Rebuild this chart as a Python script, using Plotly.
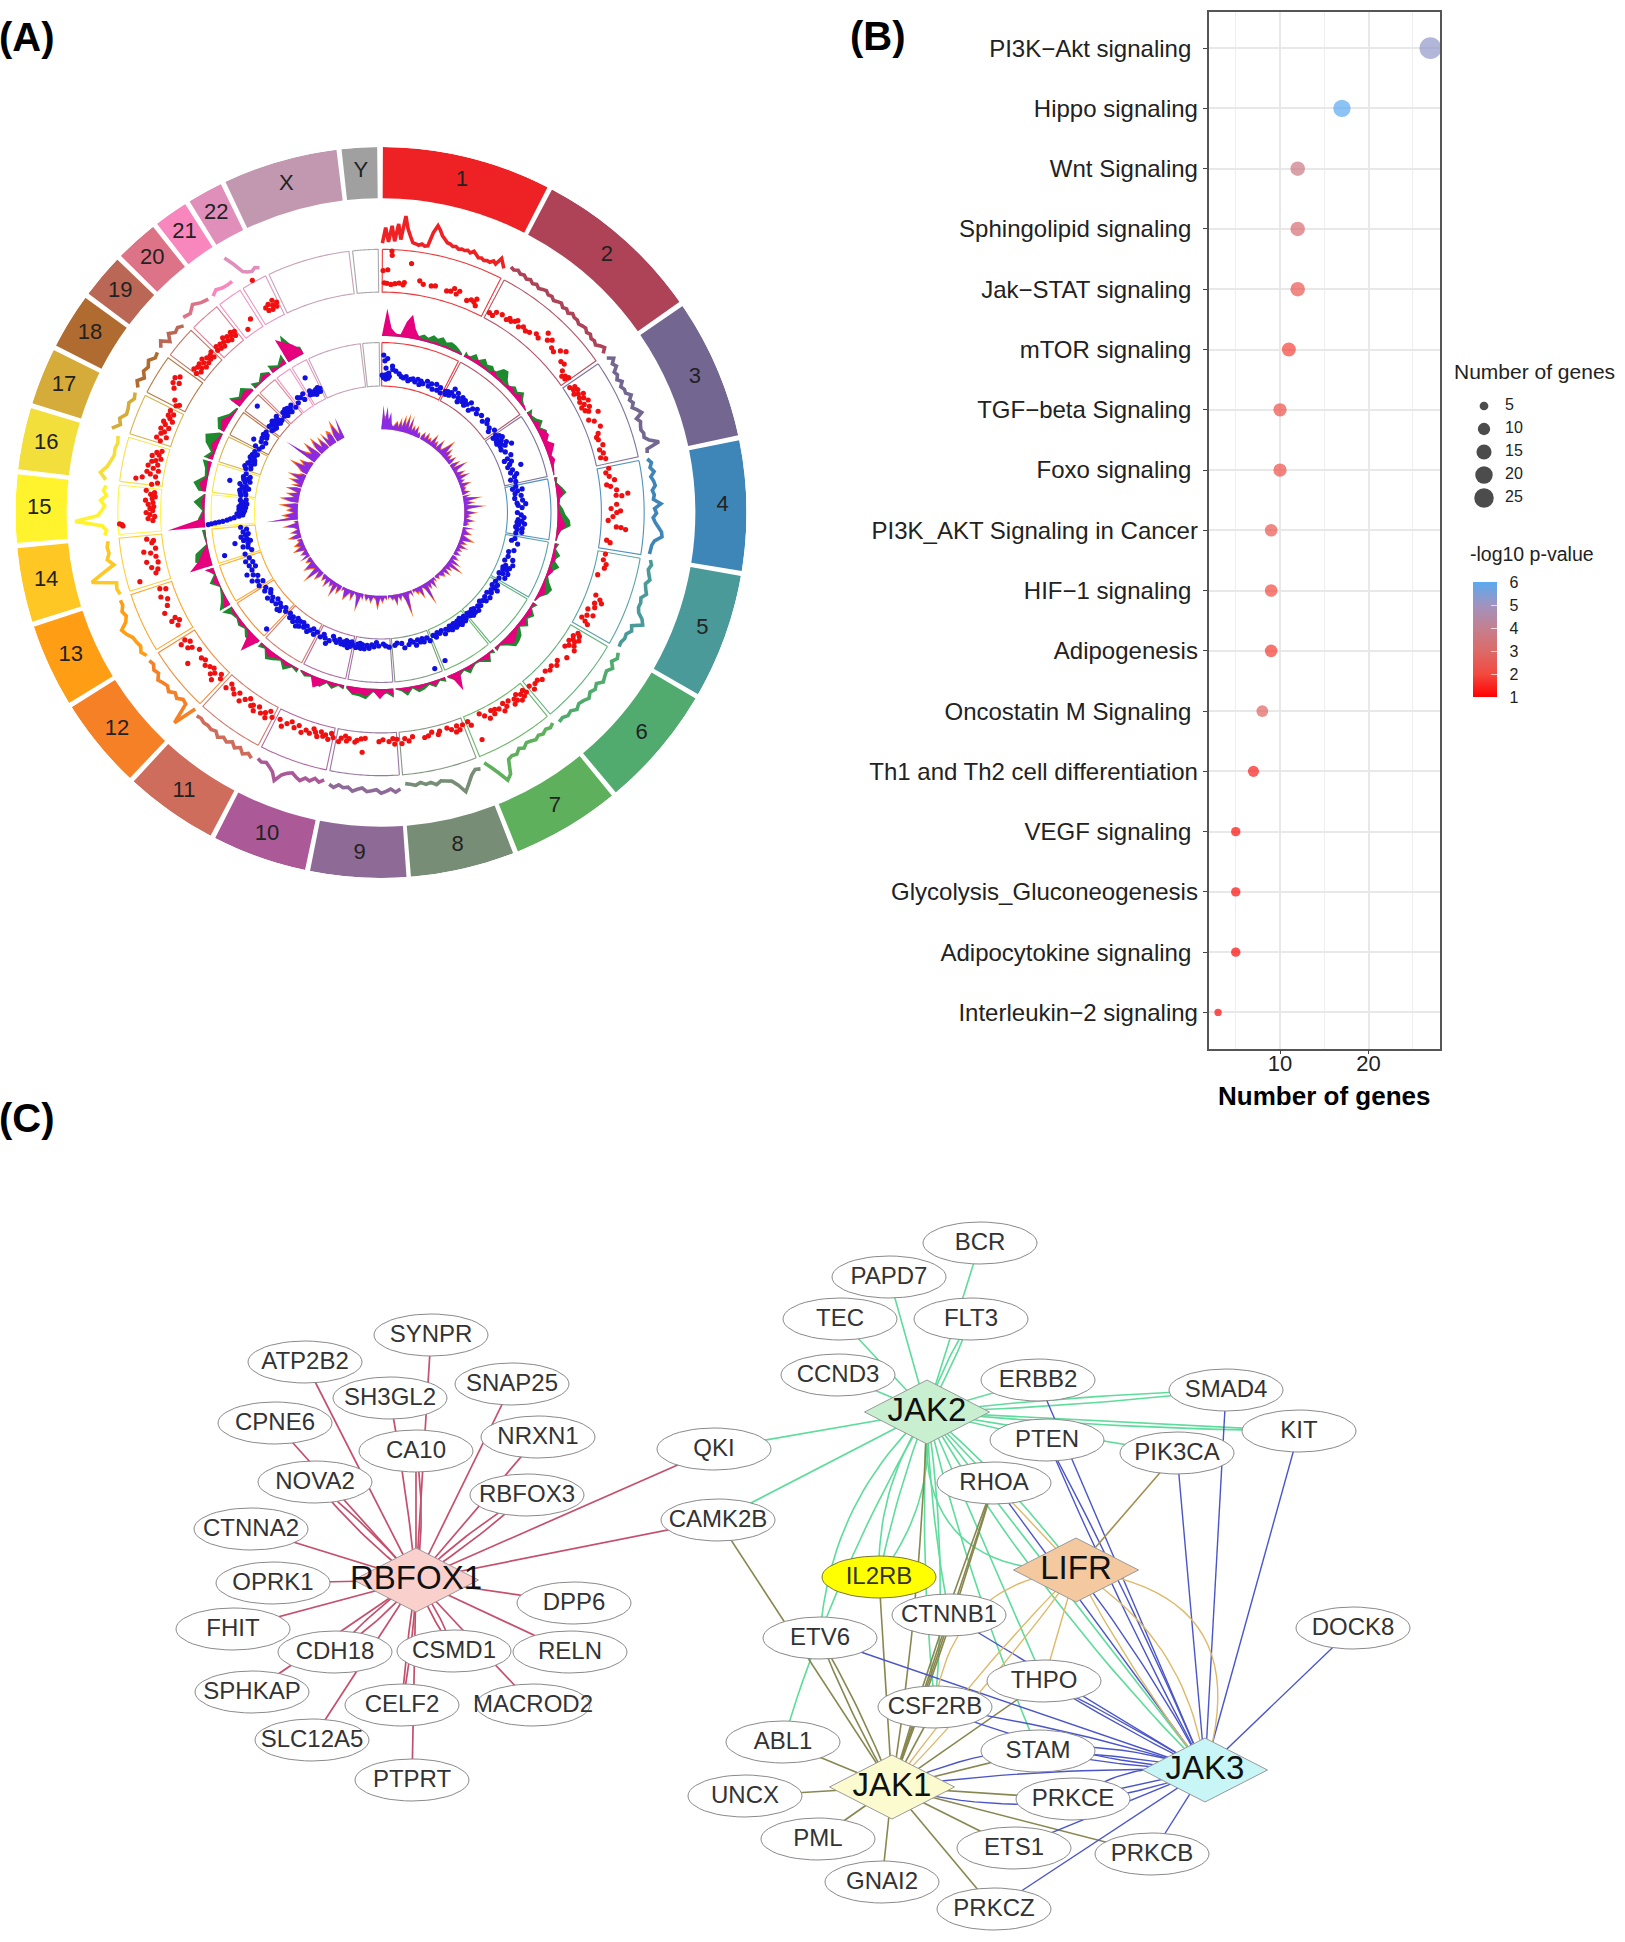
import numpy as np
import plotly.graph_objects as go

W, H = 1625, 1942

# ---------- Panel A: chromosome ring ----------
CHROMS = ["1","2","3","4","5","6","7","8","9","10","11","12","13","14","15","16","17","18","19","20","21","22","X","Y"]
CHR_START = [0.3,27.9,55.6,78.6,100,120.6,140.8,158.8,176,192,207.8,223.4,238.6,252.6,265.2,276.8,287.4,297.2,306.8,314.6,322.2,328.4,334.8,353.8]
CHR_END = [27.1,54.8,77.8,99.2,119.8,140,158,175.3,191.2,207,222.6,237.8,251.8,264.4,276,286.6,296.4,306,313.8,321.4,327.6,334,353,359.4]
CHR_COLOR = ["#EE2224","#AE4358","#736691","#3E86B8","#4A9A99","#51AA6E","#5FB05C","#778D76","#8E6A97","#AC5A97",
             "#CF6D5D","#F58025","#FF9E14","#FFC724","#FFF32E","#F3DF3B","#D5AB3A","#B06C30","#BA6756","#DC7386",
             "#F887BD","#E08FBB","#C198B0","#A0A0A0"]

LINE_LEVELS = [
 [0,.55,.05,.62,.08,.7,.15,1.0,.55,.3,.08,.05,.02,.08,.02,.05,.55,.82,.68,.5,.4,.3,.28,.22,.25,.18,.22,.2,.24,.18,.28,.2,.12,.15,.1,.14,.12,.22,.15,.42,.28,.14],
 [.3,.25,.32,.24,.28,.2,.26,.18,.24,.16,.22,.26,.18,.22,.14,.2,.25,.16,.22,.14,.24,.18,.2,.13,.18,.22,.14,.2,.12,.16,.1,.22,.3,.14],
 [.15,.35,.2,.28,.1,.15,.05,.18,.05,.12,.1,.25,.12,.2,.1,.24,.35,.1,.2,.15,.12,.18,.15,.3,.62,.15,.12],
 [.08,.2,.12,.24,.1,.18,.22,.1,.16,.12,.38,.15,.22,.1,.18,.3,.42,.45,.2,.12,.1,.08],
 [.15,.22,.14,.2,.28,.16,.22,.3,.15,.2,.18,.25,.45,.55,.2,.28,.15,.18,.12,.14],
 [.22,.3,.18,.35,.22,.28,.36,.2,.3,.22,.34,.25,.2,.3,.18,.24,.16,.2],
 [.08,.16,.1,.18,.12,.2,.14,.1,.22,.14,.28,.24,.3,.8,.95,.6,.3,.05],
 [.2,.15,.3,.55,.8,.5,.3,.25,.2,.3,.18,.22,.12,.2,.14,.1],
 [.28,.38,.26,.34,.4,.28,.32,.36,.24,.3,.38,.26,.3,.22,.34,.26],
 [.14,.26,.16,.3,.24,.38,.3,.2,.28,.4,.68,.42,.3,.2,.26,.2],
 [.3,.2,.32,.16,.28,.14,.26,.18,.3,.16,.22,.18,.2,.14,.18],
 [.04,.9,.15,.1,.24,.15,.3,.2,.26,.34,.18,.25,.14,.2],
 [.18,.3,.2,.26,.3,.45,.55,.3,.2,.28,.18,.2],
 [.14,.2,.15,1.0,.55,.1,.3,.2,.24,.18],
 [.28,.2,.35,1.3,.5,.35,.25,.4,.2,.32,.24],
 [.28,.5,.3,.2,.12,.15,.1,.16],
 [.45,.2,.3,.12,.14,.2,.08,.15],
 [.14,.28,.1,.25,.18,.3,.15,.2],
 [.2,.35,.08,.3,.14,.2,.08],
 [.3,.22,.4,.25,.18],
 [.16,.28,.2,.18,.2],
 [1.05,.7,.3,.2,.15,.22,.14],
]
LINE_R0, LINE_H = 0.737, 0.077

# Track 2, red points: (angle in degrees, level in the box)
RED_POINTS = [
 (0.5,.43),(2.4,.85),(2.5,.76),(1.6,.45),(7,.62),(.8,.17),(1.5,.16),(2.5,.14),(3.5,.16),(4.5,.18),(5.5,.15),(5.8,.2),(9.5,.28),(10.5,.22),(12.5,.22),(13.5,.24),(16.5,.2),(17.5,.22),(18.2,.3),(19,.2),(19.6,.28),(22,.15),(23,.2),(23.8,.18),(24.5,.12),(24.2,.26),
 (28.5,.12),(29.5,.1),(30,.2),(31.5,.22),(33,.18),(33.6,.24),(34.2,.2),(35,.25),(35.5,.3),(36.5,.2),(37.5,.26),(38.5,.22),(39.5,.25),(41,.32),(42,.28),(43,.5),(44,.38),(44.8,.45),(46,.33),(47,.3),(48,.42),(49,.5),(50,.28),(51,.3),(52,.18),(53,.1),(53.5,.16),(54,.12),(54.3,.2),
 (56.5,.1),(57,.2),(57.5,.14),(58,.22),(58.5,.1),(59,.18),(59.5,.28),(60,.16),(60.5,.24),(61,.12),(61.5,.3),(62,.18),(62.5,.1),(63,.26),(63.5,.14),(64,.2),(65,.38),(66,.12),(66.8,.22),(68.5,.3),(70,.2),(70.8,.14),(71.5,.16),(73,.22),(74,.12),(75,.18),(76,.1),(76.5,.2),
 (79,.22),(80,.14),(81,.2),(82,.3),(83,.12),(83.5,.2),(84.5,.32),(85.5,.55),(85.8,.3),(86,.42),(88,.3),(89,.18),(89.6,.38),(90,.3),(91,.22),(92,.12),(93.5,.3),(93.6,.4),(94,.5),(97,.12),(97.5,.2),
 (100.5,.14),(102,.12),(103,.2),(104,.18),(106,.08),(111,.18),(111.8,.3),(112.5,.36),(113,.22),(114,.26),(115,.14),(116,.3),(116.5,.18),(117.5,.1),(118,.2),(118.5,.28),
 (121.5,.2),(122,.26),(122.6,.14),(123,.3),(123.4,.18),(123.8,.24),(124.2,.12),(124.7,.28),(125.2,.18),(125.6,.34),(126,.12),(128,.3),(130,.18),(131,.24),(132,.16),(133,.2),(134,.14),(136,.22),(137,.16),(138,.18),(139,.26),(139.5,.14),
 (141,.2),(141.5,.12),(142,.24),(142.5,.16),(143,.28),(143.5,.1),(144,.22),(144.5,.16),(145,.26),(146,.12),(147,.2),(147.5,.1),(148,.26),(149,.16),(150,.12),(150.5,.2),(151,.1),(152,.24),(153,.14),(154,.05),(156,.57),(157,.2),(157.5,.1),
 (159,.12),(160,.2),(160.5,.1),(161,.22),(162,.14),(163,.08),(165,.1),(165.5,.16),(167,.08),(168,.14),(169,.16),(172,.1),(173,.18),(174,.12),(174.8,.22),
 (176,.12),(176.6,.22),(177,.1),(178,.16),(179.5,.12),(180.5,.16),(184,.1),(184.5,.4),(185,.12),(186,.16),(186.5,.2),(188,.14),(188.6,.2),(189,.1),(190,.16),(190.5,.24),
 (192,.18),(192.6,.1),(193.2,.24),(194,.16),(194.6,.2),(195.2,.12),(196,.24),(196.6,.16),(197.2,.1),(198,.22),(199,.18),(200,.26),(201,.14),(202,.22),(203,.12),(204,.2),(205,.3),(206,.18),
 (208,.22),(209,.12),(209.5,.3),(210,.2),(211,.26),(212,.16),(212.8,.3),(213.5,.2),(214,.24),(215,.12),(216,.2),(217,.3),(218,.16),(219,.25),(220,.18),(221,.12),(221.5,.26),
 (224,.2),(224.6,.12),(225.4,.35),(226,.2),(226.6,.28),(227,.14),(228,.18),(229,.24),(230,.16),(231,.2),(232,.5),(233,.12),(234.5,.22),(235,.3),(236,.18),(236.5,.38),(237,.26),
 (241,.22),(242,.14),(242.5,.3),(243,.2),(245,.36),(246.5,.24),(248,.18),(249,.3),(250.5,.14),(251,.26),
 (254,.62),(255,.24),(255.8,.18),(256.5,.3),(257.5,.14),(258,.38),(259,.16),(260,.26),(260.5,.4),(261,.14),(262.5,.2),(263,.16),(263.5,.3),
 (267.5,.85),(267.3,.8),(267,.78),(268,.14),(268.5,.24),(269,.1),(269.5,.2),(270,.28),(270.5,.14),(271,.2),(271.5,.12),(272,.24),(272.5,.14),(273,.3),(273.5,.16),(274,.1),(274.5,.2),(275,.12),(275.4,.3),
 (277,.2),(277.5,.08),(278,.55),(278.5,.42),(279,.14),(279.5,.26),(280,.34),(280.5,.1),(281,.22),(281.5,.34),(282,.14),(282.6,.28),(283,.2),(283.6,.1),(284,.3),(284.5,.16),(285,.22),(285.6,.12),
 (288,.22),(288.6,.32),(289.2,.12),(289.8,.26),(290.4,.2),(291,.3),(291.6,.14),(292.2,.24),(292.8,.3),(293.4,.12),(294,.2),(294.6,.26),(295.2,.16),(295.8,.26),
 (297.5,.2),(298,.14),(298.6,.28),(301,.42),(302,.5),(302.6,.38),(303.2,.52),(304,.44),
 (307,.2),(307.5,.3),(308,.14),(308.4,.26),(308.9,.18),(309.3,.28),(309.8,.12),(310.2,.22),(310.6,.3),(311,.14),(311.6,.24),(312,.16),(312.6,.22),(313,.14),(313.4,.26),
 (314.8,.18),(315.2,.26),(315.8,.16),(316.3,.24),(316.8,.14),(317.3,.22),(317.8,.3),(318.3,.18),(318.8,.26),(319.2,.14),(319.7,.22),(320.1,.28),(320.6,.16),(321,.24),
 (324,.1),(326,.25),
 (331,.93),(330.6,.28),(331,.2),(331.5,.32),(332,.18),(332.4,.26),(332.8,.36),(333.2,.2),(333.6,.28),
]

# Track 4, blue points: (angle in degrees, level in the box)
BLUE_POINTS = [
 (1,.62),(1.5,.5),(2.5,.55),(2,.35),(0.5,.2),(1,.15),(1.5,.2),(2,.12),(2.5,.22),(3,.14),(3.2,.25),(3.5,.18),(4.5,.4),(4.7,.33),(6,.3),(7.5,.25),(8.5,.2),(9.5,.18),(10.5,.22),(11.5,.14),(12.5,.18),(13.5,.2),(14.5,.15),(15.5,.22),(16.5,.12),(17,.2),(18,.16),(19.5,.24),(20.5,.15),(21.5,.22),(22.5,.12),(23.5,.25),(24.5,.14),(25.5,.22),(26.3,.12),
 (28,.2),(28.5,.14),(29,.22),(30,.16),(30.5,.24),(31,.34),(32,.2),(33,.3),(34,.22),(34.5,.14),(35.5,.28),(36,.2),(37,.26),(37.6,.16),(38.5,.22),(39.5,.3),(40.5,.14),(41.5,.22),(43,.28),(44,.2),(46,.25),(48,.18),(49,.28),(50,.22),(52,.2),(53,.14),(54,.26),
 (56,.22),(56.5,.14),(57,.28),(57.5,.2),(58,.32),(58.5,.16),(59,.26),(59.5,.14),(60,.22),(60.5,.34),(61,.18),(61.5,.28),(62,.42),(62.5,.16),(64,.22),(66,.3),(67,.2),(67.5,.12),(68.5,.26),(69.5,.2),(70.5,.14),(71,.42),(72,.22),(73,.16),(74,.28),(75,.22),(76,.12),(77,.22),
 (79,.2),(80,.12),(80.5,.32),(81,.22),(82,.16),(83,.28),(84,.14),(85,.3),(86,.18),(86.5,.36),(87,.2),(88,.28),(90,.18),(91,.26),(92,.32),(93,.2),(93.6,.28),(94,.18),(94.6,.34),(95,.22),(96,.16),(96.5,.3),(97,.2),(98,.3),(98.6,.18),
 (101,.18),(102,.12),(103,.26),(106,.22),(107,.12),(109,.14),(110,.26),(111,.1),(112,.3),(113,.16),(113.6,.26),(114,.12),(114.6,.22),(115,.14),(116,.28),(116.6,.18),(117,.1),(118,.26),(119,.15),
 (121,.12),(122,.2),(123,.1),(123.6,.18),(124,.26),(125,.14),(126,.18),(127,.1),(128,.22),(129,.12),(130,.2),(131,.14),(132,.1),(133,.18),(134,.14),(135,.22),(136,.12),(136.6,.2),(137,.1),(137.6,.16),(138,.22),(138.6,.12),(139,.18),(139.5,.1),
 (141,.16),(141.6,.1),(142,.2),(142.6,.12),(143,.18),(143.6,.08),(144,.22),(144.6,.14),(145,.1),(145.6,.18),(146,.12),(146.6,.2),(147,.1),(147.6,.16),(148,.12),(148.6,.2),(149,.1),(150,.16),(151,.12),(152,.2),(153,.1),(154,.14),(155,.1),(156,.18),(156.6,.7),(157,.12),
 (159,.2),(160,.12),(161,.78),(161.5,.18),(162,.1),(163,.16),(164,.1),(165,.2),(166,.12),(167,.08),(168,.15),(170,.2),(171,.1),(173,.08),(174,.12),
 (176.5,.15),(178,.12),(179,.08),(181,.12),(182,.05),(183,.14),(184,.1),(185,.18),(186,.12),(187,.2),(188,.12),(188.6,.2),(189,.1),(189.6,.18),(190,.12),(190.6,.2),
 (192,.16),(192.6,.1),(193,.2),(193.6,.12),(194,.24),(194.6,.16),(195,.1),(195.6,.2),(196,.14),(197,.2),(198,.12),(199,.2),(200,.16),(201,.1),(202,.22),(203,.3),(204,.2),(205,.14),(206,.22),
 (208,.16),(209,.24),(210,.14),(211,.2),(212,.26),(213,.16),(214,.22),(215,.14),(215.8,.26),(216.5,.16),(217,.3),(217.6,.2),(218,.14),(219,.26),(220,.18),(221,.24),(222,.16),
 (224,.2),(224.5,.74),(225,.14),(226,.28),(226.6,.2),(227,.3),(228,.16),(229,.24),(230,.14),(231,.26),(232,.2),(233,.3),(234,.18),(235,.14),(236,.26),(237,.2),
 (239,.3),(240,.18),(241,.28),(242,.38),(243,.22),(244,.3),(245,.42),(246,.28),(247,.18),(248,.3),(249,.2),(250,.34),(251,.24),
 (253,.3),(254,.14),(254.6,.72),(255.5,.2),(256,.3),(257,.18),(258,.12),(258.5,.26),(259,.18),(260,.3),(260.5,.2),(261,.14),(262,.24),(263,.16),(264,.28),(258,.45),
 (266,.95),(266.2,.88),(266.4,.8),(266.6,.72),(266.8,.64),(267.2,.55),(267.6,.48),(268,.4),(268.5,.3),(269,.22),(269.5,.34),(270,.2),(270.4,.28),(270.8,.18),(271.2,.3),(271.6,.22),(272,.16),(272.4,.3),(272.8,.2),(273.2,.26),(273.6,.14),(274,.24),(274.4,.18),(275,.28),(275.4,.16),
 (277,.28),(277.5,.18),(278,.3),(278.6,.2),(279,.32),(279.6,.22),(280,.14),(280.6,.28),(281,.2),(281.6,.34),(282,.56),(282.6,.24),(283,.14),(283.6,.28),(284,.2),(284.6,.3),(285,.16),(286,.26),
 (288,.3),(288.6,.2),(289,.34),(289.8,.22),(290.4,.3),(291,.16),(291.6,.26),(292.2,.18),(293,.3),(293.6,.22),(294.2,.28),(295,.18),(295.8,.26),
 (297.5,.2),(298,.3),(299,.16),(300,.4),(300.6,.24),(301,.14),(302,.26),(303,.18),(303.6,.28),(304,.2),(305,.26),
 (307,.18),(307.6,.28),(308,.16),(308.6,.26),(309,.14),(309.6,.22),(310,.3),(310.6,.18),(310.7,.74),(311,.26),(311.6,.14),(312,.22),(312.6,.3),(313,.16),
 (315,.18),(315.6,.26),(316.2,.14),(316.8,.22),(317,.28),(317.6,.18),(318,.26),(318.6,.14),(319,.22),(320,.26),(321,.16),
 (323,.2),(324,.3),(325,.26),(326,.18),(326.6,.3),
 (329,.2),(329.6,.28),(330.2,.18),(330.6,.56),(331,.22),(331.5,.14),(332,.24),(332.5,.18),(333,.26),(333.5,.16),(333.8,.22),
]

# Track 3 areas, one list per chromosome
MAGENTA = [
 [.02,1.2,.35,.15,.1,.7,1.05,.45,.15,.08,.1,.05,.12,.06,.1,.08,.05,.1,.04],
 [.08,.15,.05,.2,.1,.12,.05,.25,.08,.12,.05,.18,.22,.1,.3,.08,.12,.04],
 [.05,.12,.04,.25,.12,.3,.38,.2,.45,.3,.15,.25,.12,.08,.04],
 [.1,.05,.2,.32,.12,.08,.05,.15,.25,.4,.18,.08,.04],
 [.12,.05,.15,.2,.06,.25,.1,.05,.18,.3,.12,.04],
 [.15,.05,.25,.12,.3,.1,.18,.35,.45,.2,.06,.1],
 [.1,.05,.3,.15,.06,.04,.12,.18,.05,.1,.85,.2,.05],
 [.12,.05,.2,.06,.12,.2,.05,.25,.08,.04],
 [.3,.12,.45,.1,.35,.25,.32,.08],
 [.15,.05,.2,.08,.3,.5,.06,.12,.04],
 [.1,.05,.2,.06,.16,.3,.06,.1],
 [.08,.9,.15,.05,.18,.06,.12,.04],
 [.35,.15,.05,.02,.25,.02,.4],
 [1.05,.55,.3,.02,.06,.03],
 [1.65,.2,.06,.18,.03],
 [.18,.32,.06,.12,.2],
 [.25,.08,.3,.15,.06],
 [.15,.35,.1,.04],
 [.5,.18,.3,.08],
 [.08,.03,.2,.1],
 [.22,.06,.25],
 [1.15,.85,.6,.2],
]
GREEN = [
 [.02,.3,.15,.08,.12,.3,.35,.3,.18,.3,.2,.38,.28,.42,.25,.35,.3,.2,.08],
 [.25,.1,.38,.2,.42,.25,.35,.2,.55,.6,.3,.15,.35,.25,.45,.2,.1,.04],
 [.3,.12,.22,.42,.18,.38,.3,.2,.35,.25,.12,.2,.1,.06,.03],
 [.15,.08,.28,.45,.15,.1,.25,.35,.55,.6,.2,.1,.06],
 [.2,.1,.35,.15,.45,.2,.1,.25,.5,.4,.15,.06],
 [.25,.1,.38,.2,.42,.15,.45,.55,.6,.3,.1,.2],
 [.2,.08,.4,.25,.12,.1,.2,.35,.1,.2,.3,.25,.08],
 [.22,.08,.3,.12,.25,.32,.1,.38,.15,.05],
 [.4,.2,.3,.15,.48,.38,.35,.12],
 [.2,.1,.3,.12,.38,.25,.1,.2,.06],
 [.2,.1,.4,.12,.3,.45,.12,.25],
 [.12,.3,.35,.12,.25,.12,.2,.5],
 [.55,.3,.15,.05,.4,.08,.35],
 [.25,.7,.6,.05,.1,.15],
 [.08,.3,.1,.5,.06],
 [.32,.6,.15,.22,.42],
 [.42,.18,.55,.7,.15],
 [.3,.55,.2,.08],
 [.6,.3,.5,.12],
 [.3,.1,.35,.15],
 [.4,.15,.48],
 [.45,1.2,.5,.35],
]
# Track 5 areas, one list per chromosome
PURPLE = [
 [.05,.85,.3,.8,.35,.62,.2,.12,.18,.3,.12,.35,.15,.5,.2,.6,.15,.55,.12,.3,.15,.35,.1,.18,.08],
 [.12,.25,.08,.3,.1,.18,.08,.4,.12,.22,.06,.38,.15,.1,.28,.55,.15,.35,.1,.22,.08,.3,.1],
 [.1,.32,.06,.5,.12,.08,.3,.1,.42,.08,.18,.06,.35,.1,.15,.08,.25,.06],
 [.25,.08,.55,.1,.32,.06,.65,.12,.08,.38,.1,.18,.06,.32,.1,.15,.06],
 [.35,.08,.15,.28,.06,.2,.4,.08,.25,.06,.3,.08,.18,.05,.2,.08],
 [.1,.22,.06,.38,.08,.55,.1,.25,.06,.3,.08,.2,.12,.06,.15,.05],
 [.15,.06,.3,.08,.25,.1,.7,.15,.06,.38,.12,.18,.06,.1],
 [.2,.06,.12,.75,.22,.06,.2,.08,.32,.1,.15,.05,.1],
 [.12,.06,.2,.08,.4,.1,.06,.22,.08,.18,.05],
 [.18,.08,.55,.12,.05,.28,.08,.2,.35,.06,.12],
 [.1,.28,.06,.45,.1,.2,.06,.32,.08,.2,.06],
 [.15,.32,.06,.58,.1,.2,.38,.08,.2,.06],
 [.32,.08,.22,.06,.38,.12,.28,.1,.15],
 [.2,.38,.08,.28,.06,.15,.45,.08,.12],
 [1.15,.25,.45,.12,.32,.18,.52,.1],
 [.25,.55,.15,.38,.08,.42,.15],
 [.32,.1,.42,.15,.5,.2,.12],
 [.18,.32,.6,.2,.38,.15,.08],
 [1.25,.42,.25,.6,.15],
 [.28,.55,.15,.42,.1],
 [.45,.2,.42,.3],
 [.25,.6,.15,.78],
]
ORANGE = [
 [.05,.55,.45,.55,.2,.4,.12,.15,.25,.35,.18,.5,.2,.62,.3,.72,.2,.68,.18,.38,.2,.42,.15,.22,.1],
 [.15,.32,.1,.38,.15,.25,.1,.5,.18,.3,.08,.48,.2,.15,.38,.7,.2,.45,.15,.3,.1,.38,.12],
 [.12,.42,.1,.62,.18,.1,.4,.15,.52,.1,.25,.08,.45,.15,.2,.1,.32,.08],
 [.32,.1,.7,.15,.42,.08,.82,.18,.1,.5,.15,.25,.08,.42,.15,.2,.08],
 [.45,.1,.2,.38,.08,.28,.55,.1,.32,.08,.42,.1,.25,.06,.28,.1],
 [.15,.3,.08,.5,.1,.7,.15,.32,.08,.4,.1,.28,.18,.08,.2,.06],
 [.22,.08,.4,.1,.32,.15,.88,.2,.08,.5,.18,.25,.08,.15],
 [.28,.08,.18,.95,.3,.08,.28,.1,.42,.15,.2,.06,.15],
 [.18,.08,.28,.1,.52,.15,.08,.3,.1,.25,.06],
 [.25,.1,.7,.18,.06,.38,.1,.28,.45,.08,.18],
 [.15,.38,.08,.6,.15,.28,.08,.42,.1,.28,.08],
 [.2,.42,.08,.75,.15,.28,.5,.1,.28,.08],
 [.42,.1,.3,.08,.5,.18,.38,.15,.2],
 [.28,.5,.1,.38,.08,.2,.6,.1,.18],
 [.95,.32,.6,.18,.42,.25,.7,.15],
 [.32,.7,.2,.5,.1,.55,.2],
 [.42,.15,.55,.2,.65,.28,.18],
 [.25,.42,.8,.28,.5,.2,.1],
 [.85,.55,.32,.75,.2],
 [.38,.7,.2,.55,.15],
 [.6,.25,.55,.42],
 [.32,.8,.2,.6],
]

# ---------- Panel B ----------
PATHWAYS = ["PI3K−Akt signaling\u00a0","Hippo signaling","Wnt Signaling","Sphingolipid signaling\u00a0","Jak−STAT signaling\u00a0",
            "mTOR signaling\u00a0","TGF−beta Signaling\u00a0","Foxo signaling\u00a0","PI3K_AKT Signaling in Cancer","HIF−1 signaling\u00a0",
            "Adipogenesis","Oncostatin M Signaling\u00a0","Th1 and Th2 cell differentiation","VEGF signaling\u00a0",
            "Glycolysis_Gluconeogenesis","Adipocytokine signaling\u00a0","Interleukin−2 signaling"]
GENE_COUNT = [27,17,12,12,12,11,10,10,9,9,9,8,7,5,5,5,3]
LOG_P = [5.2,6.0,3.7,3.2,2.4,1.9,2.2,2.2,2.4,2.0,1.8,2.8,1.4,1.15,1.15,1.1,1.1]
SIZE_LEGEND = [5,10,15,20,25]
COLOR_TICKS = [1,2,3,4,5,6]
COLOR_SCALE = [[0,"#FF0000"],[.2,"#F24A3F"],[.4,"#DC6A68"],[.6,"#C4808F"],[.8,"#A093BF"],[1,"#5AAAF0"]]

# ---------- Panel C: nodes and edges ----------
NODE_NAMES = ["SYNPR","ATP2B2","SH3GL2","SNAP25","CPNE6","CA10","NRXN1","NOVA2","RBFOX3","QKI","CAMK2B","CTNNA2","OPRK1","DPP6","FHIT","CDH18","CSMD1","RELN","SPHKAP","CELF2","MACROD2","SLC12A5","PTPRT",
              "BCR","PAPD7","TEC","FLT3","CCND3","ERBB2","SMAD4","KIT","PTEN","PIK3CA","RHOA","IL2RB","CTNNB1","ETV6","DOCK8","THPO","CSF2RB","ABL1","STAM","UNCX","PRKCE","PML","ETS1","PRKCB","GNAI2","PRKCZ",
              "RBFOX1","JAK2","JAK1","JAK3","LIFR"]
NODE_X = [431,305,390,512,275,416,538,315,527,714,718,251,273,574,233,335,454,570,252,402,533,312,412,
          980,889,840,971,838,1038,1226,1299,1047,1177,994,879,949,820,1353,1044,935,783,1038,745,1073,818,1014,1152,882,994,
          416,927,892,1205,1076]
NODE_Y = [1335,1362,1398,1384,1423,1451,1437,1482,1495,1449,1520,1529,1583,1603,1629,1652,1651,1652,1692,1705,1705,1740,1780,
          1243,1277,1319,1319,1375,1380,1390,1431,1440,1453,1483,1577,1615,1638,1628,1681,1707,1742,1751,1796,1799,1839,1848,1854,1882,1909,
          1580,1412,1787,1770,1570]
HUB_NAMES = ["RBFOX1","JAK2","JAK1","JAK3","LIFR"]
HUB_FILL = ["#F9D0CC","#C8EFD0","#FBFBCF","#C8F5F5","#F5C9A0"]

RBFOX1_EDGES = [("RBFOX1",n,c) for n,c in [("SYNPR",0),("ATP2B2",0),("SH3GL2",.01),("SNAP25",0),("CPNE6",0),("CA10",0),("CA10",.04),("NRXN1",0),("NOVA2",.02),("NOVA2",-.03),
    ("RBFOX3",.02),("RBFOX3",-.03),("QKI",0),("CAMK2B",0),("CTNNA2",0),("OPRK1",0),("DPP6",0),("FHIT",0),("CDH18",.03),("CDH18",-.04),("CSMD1",.03),("CSMD1",-.04),
    ("RELN",0),("SPHKAP",0),("CELF2",.01),("CELF2",-.02),("MACROD2",0),("SLC12A5",0),("PTPRT",0)]]
JAK2_EDGES = [("JAK2",n,c) for n,c in [("BCR",0),("PAPD7",0),("TEC",0),("FLT3",.02),("FLT3",-.03),("CCND3",0),("ERBB2",0),("SMAD4",.01),("SMAD4",-.01),("KIT",0),("KIT",.01),("PTEN",0),("PIK3CA",0),
    ("QKI",0),("CAMK2B",0),("RHOA",0),("IL2RB",.08),("IL2RB",-.1),("IL2RB",.02),("CTNNB1",.02),("ETV6",.1),("ABL1",.03),("CSF2RB",.02),("CSF2RB",-.03),("THPO",0),("STAM",.02),("LIFR",.28),("JAK3",0),("JAK3",.03),("LIFR",-.03)]]
JAK1_EDGES = [("JAK1",n,c) for n,c in [("CAMK2B",0),("ETV6",.02),("ETV6",-.02),("IL2RB",0),("CTNNB1",0),("CSF2RB",0),("THPO",0),("RHOA",.01),("RHOA",-.01),("RHOA",.004),("JAK2",.015),("ABL1",0),("UNCX",0),("PML",0),("GNAI2",0),
    ("PRKCZ",0),("ETS1",0),("PRKCB",0),("PRKCE",0),("STAM",0)]]
JAK3_EDGES = [("JAK3",n,c) for n,c in [("ERBB2",0),("PTEN",.01),("PTEN",-.01),("RHOA",0),("LIFR",.02),("SMAD4",0),("KIT",0),("PIK3CA",0),("DOCK8",0),("THPO",.01),("THPO",-.01),("CTNNB1",0),("ETV6",0),
    ("CSF2RB",.02),("CSF2RB",-.04),("STAM",.02),("STAM",-.02),("PRKCE",0),("PRKCE",.1),("PRKCB",0),("ETS1",0),("PRKCZ",0),("JAK1",.02),("JAK1",-.08),("JAK1",.1)]]
LIFR_EDGES = [("LIFR",n,c) for n,c in [("JAK3",-.3),("JAK3",-.12),("JAK3",.02),("RHOA",0),("THPO",0),("JAK1",.02),("JAK1",-.02),("CSF2RB",.2)]]
PIK3CA_EDGES = [("LIFR","PIK3CA",0)]

EDGE_GROUPS = [(RBFOX1_EDGES,"#C4506E",1.7),(JAK2_EDGES,"#5EDC9B",1.6),(JAK1_EDGES,"#87874F",1.6),
               (JAK3_EDGES,"#4A55C8",1.4),(LIFR_EDGES,"#DDB96A",1.4),(PIK3CA_EDGES,"#A09050",1.6)]
ELL_W, ELL_H = 114, 42
HUB_W, HUB_H = 125, 64

fig = go.Figure()

# ---- Panel A traces ----
R_IN, R_OUT = 0.86, 1.0
starts = np.array(CHR_START); ends = np.array(CHR_END)
fig.add_trace(go.Barpolar(theta=(starts+ends)/2, width=ends-starts, r=[R_OUT-R_IN]*24, base=[R_IN]*24,
                          marker=dict(color=CHR_COLOR, line=dict(width=0)), subplot="polar", hoverinfo="skip"))

TRACK2 = (0.603, 0.72)
TRACK4 = (0.346, 0.465)
for i in range(24):
    th, rr = [], []
    for r0, r1 in (TRACK2, TRACK4):
        a = np.linspace(CHR_START[i], CHR_END[i], 30)
        th += list(a)+list(a[::-1])+[a[0],None]
        rr += [r1]*30+[r0]*30+[r1,None]
    fig.add_trace(go.Scatterpolar(theta=th, r=rr, mode="lines", line=dict(color=CHR_COLOR[i], width=1.1), opacity=.9,
                                  subplot="polar", hoverinfo="skip"))

for i, vals in enumerate(LINE_LEVELS):
    a = np.linspace(CHR_START[i], CHR_END[i]-.4, len(vals))
    fig.add_trace(go.Scatterpolar(theta=a, r=LINE_R0+LINE_H*np.array(vals), mode="lines", line=dict(color=CHR_COLOR[i], width=3.6),
                                  subplot="polar", hoverinfo="skip"))

def area_trace(series, r0, h, color):
    th, rr = [], []
    for i, vals in enumerate(series):
        a = np.linspace(CHR_START[i], CHR_END[i], len(vals))
        th += list(a)+list(a[::-1])+[None]
        rr += list(r0+h*np.array(vals))+[r0]*len(vals)+[None]
    return go.Scatterpolar(theta=th, r=rr, mode="none", fill="toself", fillcolor=color, subplot="polar", hoverinfo="skip")

fig.add_trace(area_trace(GREEN, .483, .062, "#1E8A2E"))
fig.add_trace(area_trace(MAGENTA, .483, .062, "#E6007E"))
fig.add_trace(area_trace(ORANGE, .228, .077, "#FF6A13"))
fig.add_trace(area_trace(PURPLE, .228, .077, "#8A2BE2"))

def points_trace(points, box, color, size):
    th = [p[0] for p in points]
    rr = [box[0]+(box[1]-box[0])*(p[1]*1.1+.03) for p in points]
    return go.Scatterpolar(theta=th, r=rr, mode="markers", marker=dict(color=color, size=size), subplot="polar", hoverinfo="skip")

fig.add_trace(points_trace(RED_POINTS, TRACK2, "#F01010", 5.2))
fig.add_trace(points_trace(BLUE_POINTS, TRACK4, "#1010E0", 5.2))

fig.add_trace(go.Scatterpolar(theta=(starts+ends)/2, r=[.935]*24, mode="text", text=CHROMS,
                              textfont=dict(family="Liberation Sans", size=22, color="#222"), subplot="polar", hoverinfo="skip"))

# ---- Panel B traces ----
counts = np.array(GENE_COUNT)
fig.add_trace(go.Scatter(x=GENE_COUNT, y=PATHWAYS, mode="markers", xaxis="x", yaxis="y", cliponaxis=False, hoverinfo="skip",
    marker=dict(size=4.2*np.sqrt(counts), color=LOG_P, colorscale=COLOR_SCALE, cmin=1, cmax=6, line=dict(width=0),
        colorbar=dict(x=1473/W, xanchor="left", xref="paper", y=1-697/H, yanchor="bottom", yref="paper", len=115, lenmode="pixels",
                      thickness=24, thicknessmode="pixels", outlinewidth=0, xpad=0, ypad=0, ticks="inside", ticklen=6, tickcolor="rgba(255,255,255,.7)",
                      tickvals=COLOR_TICKS, ticktext=["\u00a0\u00a0"+str(v) for v in COLOR_TICKS],
                      tickfont=dict(family="Liberation Sans", size=16, color="#222")))))

# ---- overlay layer: size legend and network ----
ov = dict(xaxis="x2", yaxis="y2", hoverinfo="skip", cliponaxis=False)
leg_y = [406, 429, 452, 475, 498]
fig.add_trace(go.Scatter(x=[1484]*5, y=leg_y, mode="markers", marker=dict(color="black", size=3.9*np.sqrt(SIZE_LEGEND), line=dict(width=0)), **ov))
fig.add_trace(go.Scatter(x=[1505]*5, y=leg_y, mode="text", text=[str(s) for s in SIZE_LEGEND], textposition="middle right",
                         textfont=dict(family="Liberation Sans", size=16, color="#222"), **ov))
fig.add_trace(go.Scatter(x=[1454, 1470], y=[374, 556], mode="text", text=["Number of genes", "-log10 p-value"], textposition="middle right",
                         textfont=dict(family="Liberation Sans", size=[21, 19.5], color="#222"), **ov))

pos = dict(zip(NODE_NAMES, zip(NODE_X, NODE_Y)))
for edges, color, width in EDGE_GROUPS:
    xs, ys = [], []
    for a, b, c in edges:
        (x0, y0), (x1, y1) = pos[a], pos[b]
        if c == 0:
            xs += [x0, x1, None]; ys += [y0, y1, None]
        else:
            mx, my = (x0+x1)/2-c*(y1-y0)*2, (y0+y1)/2+c*(x1-x0)*2
            t = np.linspace(0, 1, 24)
            xs += list((1-t)**2*x0+2*t*(1-t)*mx+t**2*x1)+[None]
            ys += list((1-t)**2*y0+2*t*(1-t)*my+t**2*y1)+[None]
    fig.add_trace(go.Scatter(x=xs, y=ys, mode="lines", line=dict(color=color, width=width), **ov))

t = np.linspace(0, 2*np.pi, 49)
ex, ey, yx, yy = [], [], [], []
for n, x, y in zip(NODE_NAMES, NODE_X, NODE_Y):
    if n in HUB_NAMES:
        continue
    px = x+ELL_W/2*np.cos(t); py = y+ELL_H/2*np.sin(t)
    if n == "IL2RB":
        yx, yy = list(px), list(py)
    else:
        ex += list(px)+[None]; ey += list(py)+[None]
fig.add_trace(go.Scatter(x=ex, y=ey, mode="lines", fill="toself", fillcolor="white", line=dict(color="#8A8A8A", width=1), **ov))
fig.add_trace(go.Scatter(x=yx, y=yy, mode="lines", fill="toself", fillcolor="#FFFF00", line=dict(color="#777733", width=1), **ov))
for n, col in zip(HUB_NAMES, HUB_FILL):
    x, y = pos[n]
    fig.add_trace(go.Scatter(x=[x-HUB_W/2, x, x+HUB_W/2, x, x-HUB_W/2], y=[y, y-HUB_H/2, y, y+HUB_H/2, y], mode="lines",
                             fill="toself", fillcolor=col, line=dict(color="#999", width=1), **ov))
fig.add_trace(go.Scatter(x=NODE_X, y=[y+1 for y in NODE_Y], mode="text", text=NODE_NAMES,
                         textfont=dict(family="Liberation Sans", size=[33 if n in HUB_NAMES else 24 for n in NODE_NAMES],
                                       color=["#111" if n in HUB_NAMES else "#333" for n in NODE_NAMES]), **ov))

bfont = dict(family="Liberation Sans", size=40, color="black")
annots = [dict(x=x/W, y=1-y/H, xref="paper", yref="paper", text=f"<b>{s}</b>", showarrow=False, xanchor="left", yanchor="middle", font=bfont)
          for s, x, y in [("(A)", -3, 37), ("(B)", 848, 36), ("(C)", -3, 1118)]]

fig.update_layout(
    width=W, height=H, margin=dict(l=0, r=0, t=0, b=0, pad=0), paper_bgcolor="white", plot_bgcolor="rgba(0,0,0,0)",
    showlegend=False, annotations=annots,
    polar=dict(domain=dict(x=[15/W, 747/W], y=[1-878/H, 1-147/H]), bgcolor="rgba(0,0,0,0)",
               radialaxis=dict(visible=False, range=[0, 1]),
               angularaxis=dict(visible=False, direction="clockwise", rotation=90)),
    xaxis=dict(domain=[1208.5/W, 1440/W], range=[1.92, 28.08], tickvals=[10, 20], ticks="outside", ticklen=4, tickcolor="#444", ticklabelstandoff=-10,
               tickfont=dict(family="Liberation Sans", size=22, color="#222"), showline=True, mirror=True, linecolor="#555", linewidth=1.5,
               gridcolor="#E8E8E8", gridwidth=2, zeroline=False,
               minor=dict(tickvals=[5, 15, 25], showgrid=True, gridcolor="#EEEEEE", gridwidth=1, ticks=""),
               title=dict(text="<b>Number of genes</b>", font=dict(family="Liberation Sans", size=26, color="black"), standoff=12)),
    yaxis=dict(domain=[1-1048.6/H, 1-12/H], type="category", categoryorder="array", categoryarray=PATHWAYS, range=[16.6, -.6],
               ticks="outside", ticklen=4, tickcolor="#444", tickfont=dict(family="Liberation Sans", size=24, color="#222"),
               showline=True, mirror=True, linecolor="#555", linewidth=1.5, gridcolor="#E8E8E8", gridwidth=1.5, zeroline=False),
    xaxis2=dict(domain=[0, 1], range=[0, W], visible=False, anchor="y2"),
    yaxis2=dict(domain=[0, 1], range=[H, 0], visible=False, anchor="x2"),
)
fig.write_html("out.html", config=dict(displayModeBar=False), post_script="document.body.style.margin='0';")
